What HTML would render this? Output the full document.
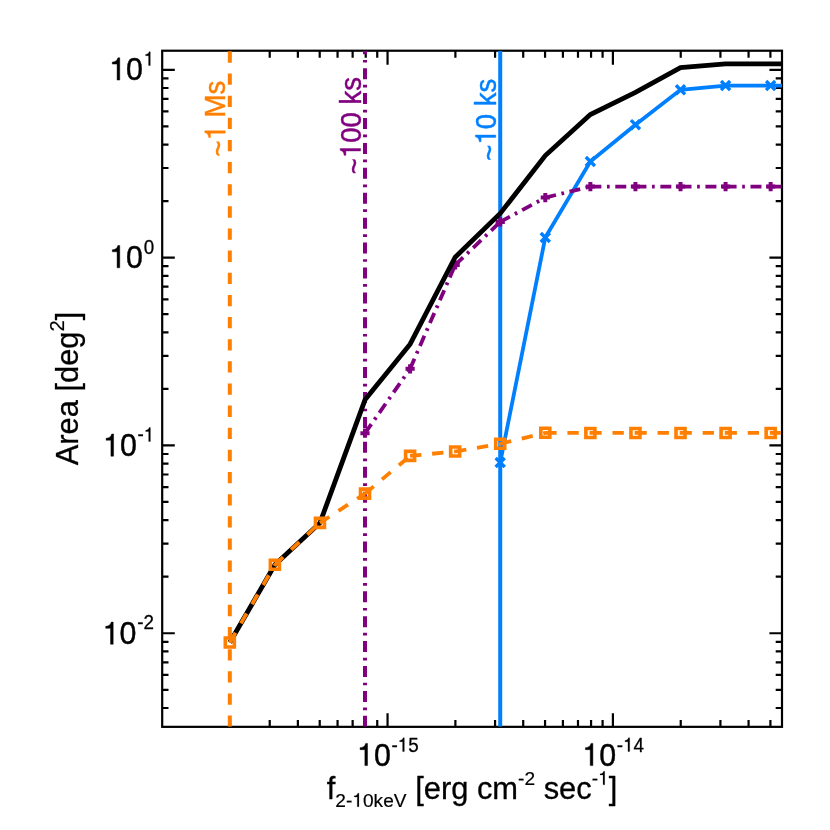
<!DOCTYPE html>
<html><head><meta charset="utf-8"><title>Area vs flux</title>
<style>html,body{margin:0;padding:0;background:#fff;overflow:hidden;}svg{display:block;will-change:transform;}text{font-family:"Liberation Sans",sans-serif;font-kerning:none;white-space:pre;}.h{fill:none;stroke:none;}</style></head><body>
<svg width="830" height="830" viewBox="0 0 830 830">
<rect x="0" y="0" width="830" height="830" fill="#fff"/>
<defs><clipPath id="pc"><rect x="162.2" y="50.72" width="619.80" height="676.13"/></clipPath></defs>
<g stroke="#000" stroke-width="2.2" fill="none" stroke-linecap="butt">
<rect x="162.2" y="50.72" width="619.80" height="676.13"/>
<path d="M230.04 726.85V720.05M230.04 50.72V57.72M269.72 726.85V720.05M269.72 50.72V57.72M297.87 726.85V720.05M297.87 50.72V57.72M319.71 726.85V720.05M319.71 50.72V57.72M337.56 726.85V720.05M337.56 50.72V57.72M352.64 726.85V720.05M352.64 50.72V57.72M365.71 726.85V720.05M365.71 50.72V57.72M377.24 726.85V720.05M377.24 50.72V57.72M387.55 726.85V713.15M387.55 50.72V64.72M455.39 726.85V720.05M455.39 50.72V57.72M495.07 726.85V720.05M495.07 50.72V57.72M523.22 726.85V720.05M523.22 50.72V57.72M545.06 726.85V720.05M545.06 50.72V57.72M562.91 726.85V720.05M562.91 50.72V57.72M577.99 726.85V720.05M577.99 50.72V57.72M591.06 726.85V720.05M591.06 50.72V57.72M602.59 726.85V720.05M602.59 50.72V57.72M612.90 726.85V713.15M612.90 50.72V64.72M680.74 726.85V720.05M680.74 50.72V57.72M720.42 726.85V720.05M720.42 50.72V57.72M748.57 726.85V720.05M748.57 50.72V57.72M770.41 726.85V720.05M770.41 50.72V57.72M162.2 707.98H168.50M782.0 707.98H775.70M162.2 689.78H168.50M782.0 689.78H775.70M162.2 674.91H168.50M782.0 674.91H775.70M162.2 662.34H168.50M782.0 662.34H775.70M162.2 651.44H168.50M782.0 651.44H775.70M162.2 641.84H168.50M782.0 641.84H775.70M162.2 633.24H174.80M782.0 633.24H769.40M162.2 576.71H168.50M782.0 576.71H775.70M162.2 543.63H168.50M782.0 543.63H775.70M162.2 520.17H168.50M782.0 520.17H775.70M162.2 501.97H168.50M782.0 501.97H775.70M162.2 487.10H168.50M782.0 487.10H775.70M162.2 474.52H168.50M782.0 474.52H775.70M162.2 463.63H168.50M782.0 463.63H775.70M162.2 454.02H168.50M782.0 454.02H775.70M162.2 445.43H174.80M782.0 445.43H769.40M162.2 388.89H168.50M782.0 388.89H775.70M162.2 355.82H168.50M782.0 355.82H775.70M162.2 332.35H168.50M782.0 332.35H775.70M162.2 314.15H168.50M782.0 314.15H775.70M162.2 299.28H168.50M782.0 299.28H775.70M162.2 286.71H168.50M782.0 286.71H775.70M162.2 275.82H168.50M782.0 275.82H775.70M162.2 266.21H168.50M782.0 266.21H775.70M162.2 257.62H174.80M782.0 257.62H769.40M162.2 201.08H168.50M782.0 201.08H775.70M162.2 168.01H168.50M782.0 168.01H775.70M162.2 144.54H168.50M782.0 144.54H775.70M162.2 126.34H168.50M782.0 126.34H775.70M162.2 111.47H168.50M782.0 111.47H775.70M162.2 98.89H168.50M782.0 98.89H775.70M162.2 88.00H168.50M782.0 88.00H775.70M162.2 78.40H168.50M782.0 78.40H775.70M162.2 69.80H174.80M782.0 69.80H769.40"/>
</g>
<g clip-path="url(#pc)" fill="none" stroke-linecap="butt" stroke-linejoin="miter">
<g stroke="#0080FF" stroke-width="4.0">
<path d="M500.22 726.85V50.72"/>
<polyline points="500.22,462.50 545.30,237.50 590.37,161.50 635.44,124.70 680.51,89.80 725.58,85.55 770.65,85.55 815.72,85.55" stroke-width="3.8"/>
<path d="M495.67 457.95L504.77 467.05M495.67 467.05L504.77 457.95M540.75 232.95L549.85 242.05M540.75 242.05L549.85 232.95M585.82 156.95L594.91 166.05M585.82 166.05L594.91 156.95M630.89 120.15L639.99 129.25M630.89 129.25L639.99 120.15M675.96 85.25L685.06 94.35M675.96 94.35L685.06 85.25M721.03 81.00L730.12 90.10M721.03 90.10L730.12 81.00M766.10 81.00L775.20 90.10M766.10 90.10L775.20 81.00M811.17 81.00L820.27 90.10M811.17 90.10L820.27 81.00" stroke-width="3.4"/>
</g>
<g stroke="#800080" stroke-width="4.0">
<path d="M365.02 726.85V50.72" stroke-dasharray="11 5.6 2.7 5.61"/>
<path d="M365.02 433.20L410.09 368.80M410.09 368.80L455.16 265.00M455.16 265.00L500.22 221.90M500.22 221.90L545.30 197.60M545.30 197.60L590.37 186.60M590.37 186.60L635.44 186.60M635.44 186.60L680.51 186.60M680.51 186.60L725.58 186.60M725.58 186.60L770.65 186.60M770.65 186.60L815.72 186.60" stroke-dasharray="11 5.6 2.7 5.61" stroke-width="3.8"/>
<path d="M360.42 433.20H369.62M365.02 428.60V437.80M405.49 368.80H414.69M410.09 364.20V373.40M450.56 265.00H459.76M455.16 260.40V269.60M495.62 221.90H504.82M500.22 217.30V226.50M540.70 197.60H549.90M545.30 193.00V202.20M585.76 186.60H594.97M590.37 182.00V191.20M630.84 186.60H640.04M635.44 182.00V191.20M675.91 186.60H685.11M680.51 182.00V191.20M720.98 186.60H730.18M725.58 182.00V191.20M766.05 186.60H775.25M770.65 182.00V191.20M811.12 186.60H820.32M815.72 182.00V191.20"/>
</g>
<polyline points="229.81,642.50 274.88,564.80 319.95,522.90 365.02,399.80 410.09,344.20 455.16,257.20 500.22,213.50 545.30,155.60 590.37,114.50 635.44,92.40 680.51,67.70 725.58,63.90 770.65,63.90 815.72,63.90" stroke="#000" stroke-width="4.8"/>
<g stroke="#FF7F00" stroke-width="4.0">
<path d="M229.81 726.85V50.72" stroke-dasharray="11.3 10.84"/>
<path d="M229.81 642.50L274.88 564.80M274.88 564.80L319.95 522.90M319.95 522.90L365.02 493.60M365.02 493.60L410.09 455.90M410.09 455.90L455.16 451.50M455.16 451.50L500.22 443.80M500.22 443.80L545.30 432.80M545.30 432.80L590.37 432.95M590.37 432.95L635.44 432.95M635.44 432.95L680.51 432.95M680.51 432.95L725.58 432.95M725.58 432.95L770.65 432.95M770.65 432.95H780.75" stroke-dasharray="11.3 10.84" stroke-width="3.8"/>
<path d="M225.31 638.00h9.0v9.0h-9.0zM270.38 560.30h9.0v9.0h-9.0zM315.45 518.40h9.0v9.0h-9.0zM360.52 489.10h9.0v9.0h-9.0zM405.59 451.40h9.0v9.0h-9.0zM450.66 447.00h9.0v9.0h-9.0zM495.72 439.30h9.0v9.0h-9.0zM540.80 428.30h9.0v9.0h-9.0zM585.87 428.45h9.0v9.0h-9.0zM630.94 428.45h9.0v9.0h-9.0zM676.01 428.45h9.0v9.0h-9.0zM721.08 428.45h9.0v9.0h-9.0zM766.15 428.45h9.0v9.0h-9.0zM811.22 428.45h9.0v9.0h-9.0z" stroke-width="3.6"/>
</g>
</g>
<g transform="translate(154.20 80.05) scale(0.96 1)" fill="#000" stroke="#000" stroke-linejoin="round">
<text x="-46.84" y="0.00" font-size="31.60" stroke-width="0.45"><tspan class="h">1</tspan>0</text>
<path d="M347 0L259 0L259 505L101 505L101 568C195 572 258 610 286 703L347 703Z" transform="translate(-46.84 0.00) scale(0.03160 -0.03160)" stroke-width="14.2"/>
<text x="-10.90" y="-14.50" font-size="19.59" stroke-width="0.29"><tspan class="h">1</tspan></text>
<path d="M347 0L259 0L259 505L101 505L101 568C195 572 258 610 286 703L347 703Z" transform="translate(-10.90 -14.50) scale(0.01959 -0.01959)" stroke-width="15.0"/>
</g>
<g transform="translate(154.20 267.77) scale(0.96 1)" fill="#000" stroke="#000" stroke-linejoin="round">
<text x="-46.84" y="0.00" font-size="31.60" stroke-width="0.45"><tspan class="h">1</tspan>0</text>
<path d="M347 0L259 0L259 505L101 505L101 568C195 572 258 610 286 703L347 703Z" transform="translate(-46.84 0.00) scale(0.03160 -0.03160)" stroke-width="14.2"/>
<text x="-10.90" y="-13.60" font-size="19.59" stroke-width="0.29">0</text>
</g>
<g transform="translate(154.30 456.18) scale(0.96 1)" fill="#000" stroke="#000" stroke-linejoin="round">
<text x="-53.37" y="0.00" font-size="31.60" stroke-width="0.45"><tspan class="h">1</tspan>0</text>
<path d="M347 0L259 0L259 505L101 505L101 568C195 572 258 610 286 703L347 703Z" transform="translate(-53.37 0.00) scale(0.03160 -0.03160)" stroke-width="14.2"/>
<text x="-17.42" y="-14.80" font-size="19.59" stroke-width="0.29">-<tspan class="h">1</tspan></text>
<path d="M347 0L259 0L259 505L101 505L101 568C195 572 258 610 286 703L347 703Z" transform="translate(-10.90 -14.80) scale(0.01959 -0.01959)" stroke-width="15.0"/>
</g>
<g transform="translate(153.90 644.29) scale(0.96 1)" fill="#000" stroke="#000" stroke-linejoin="round">
<text x="-53.37" y="0.00" font-size="31.60" stroke-width="0.45"><tspan class="h">1</tspan>0</text>
<path d="M347 0L259 0L259 505L101 505L101 568C195 572 258 610 286 703L347 703Z" transform="translate(-53.37 0.00) scale(0.03160 -0.03160)" stroke-width="14.2"/>
<text x="-17.42" y="-15.30" font-size="19.59" stroke-width="0.29">-2</text>
</g>
<g transform="translate(387.85 765.60) scale(0.96 1)" fill="#000" stroke="#000" stroke-linejoin="round">
<text x="-32.13" y="0.00" font-size="31.60" stroke-width="0.45"><tspan class="h">1</tspan>0</text>
<path d="M347 0L259 0L259 505L101 505L101 568C195 572 258 610 286 703L347 703Z" transform="translate(-32.13 0.00) scale(0.03160 -0.03160)" stroke-width="14.2"/>
<text x="3.82" y="-14.00" font-size="19.59" stroke-width="0.29">-<tspan class="h">1</tspan>5</text>
<path d="M347 0L259 0L259 505L101 505L101 568C195 572 258 610 286 703L347 703Z" transform="translate(10.34 -14.00) scale(0.01959 -0.01959)" stroke-width="15.0"/>
</g>
<g transform="translate(613.20 765.60) scale(0.96 1)" fill="#000" stroke="#000" stroke-linejoin="round">
<text x="-32.13" y="0.00" font-size="31.60" stroke-width="0.45"><tspan class="h">1</tspan>0</text>
<path d="M347 0L259 0L259 505L101 505L101 568C195 572 258 610 286 703L347 703Z" transform="translate(-32.13 0.00) scale(0.03160 -0.03160)" stroke-width="14.2"/>
<text x="3.82" y="-14.00" font-size="19.59" stroke-width="0.29">-<tspan class="h">1</tspan>4</text>
<path d="M347 0L259 0L259 505L101 505L101 568C195 572 258 610 286 703L347 703Z" transform="translate(10.34 -14.00) scale(0.01959 -0.01959)" stroke-width="15.0"/>
</g>
<g transform="translate(472.00 798.60)" fill="#000" stroke="#000" stroke-linejoin="round">
<text x="-145.29" y="0.00" font-size="30.87" stroke-width="0.30">f</text>
<text x="-136.72" y="8.10" font-size="19.14" stroke-width="0.19">2-<tspan class="h">1</tspan>0keV</text>
<path d="M347 0L259 0L259 505L101 505L101 568C195 572 258 610 286 703L347 703Z" transform="translate(-119.70 8.10) scale(0.01914 -0.01914)" stroke-width="10.0"/>
<text x="-65.43" y="0.00" font-size="30.87" stroke-width="0.30"> [erg cm</text>
<text x="46.07" y="-13.90" font-size="19.14" stroke-width="0.19">-2</text>
<text x="63.08" y="0.00" font-size="30.87" stroke-width="0.30"> sec</text>
<text x="119.70" y="-13.90" font-size="19.14" stroke-width="0.19">-<tspan class="h">1</tspan></text>
<path d="M347 0L259 0L259 505L101 505L101 568C195 572 258 610 286 703L347 703Z" transform="translate(126.07 -13.90) scale(0.01914 -0.01914)" stroke-width="10.0"/>
<text x="136.72" y="0.00" font-size="30.87" stroke-width="0.30">]</text>
</g>
<g transform="translate(78.10 388.50) rotate(-90)" fill="#000" stroke="#000" stroke-linejoin="round">
<text x="-76.84" y="0.00" font-size="30.87" stroke-width="0.30">Area [deg</text>
<text x="57.02" y="-14.50" font-size="20.22" stroke-width="0.20">2</text>
<text x="68.27" y="0.00" font-size="30.87" stroke-width="0.30">]</text>
</g>
<g transform="translate(225.20 156.50) rotate(-90) scale(0.948 1)" fill="#FF7F00" stroke="#FF7F00" stroke-linejoin="round">
<text x="0.00" y="3.20" font-size="29.10" stroke-width="0.44">~</text>
<text x="16.99" y="0.00" font-size="29.10" stroke-width="0.44"><tspan class="h">1</tspan> Ms</text>
<path d="M347 0L259 0L259 505L101 505L101 568C195 572 258 610 286 703L347 703Z" transform="translate(16.99 0.00) scale(0.02910 -0.02910)" stroke-width="15.0"/>
</g>
<g transform="translate(360.60 174.20) rotate(-90) scale(0.948 1)" fill="#800080" stroke="#800080" stroke-linejoin="round">
<text x="0.00" y="3.20" font-size="29.10" stroke-width="0.44">~</text>
<text x="16.99" y="0.00" font-size="29.10" stroke-width="0.44"><tspan class="h">1</tspan>00 ks</text>
<path d="M347 0L259 0L259 505L101 505L101 568C195 572 258 610 286 703L347 703Z" transform="translate(16.99 0.00) scale(0.02910 -0.02910)" stroke-width="15.0"/>
</g>
<g transform="translate(495.80 160.70) rotate(-90) scale(0.948 1)" fill="#0080FF" stroke="#0080FF" stroke-linejoin="round">
<text x="0.00" y="3.20" font-size="29.10" stroke-width="0.44">~</text>
<text x="16.99" y="0.00" font-size="29.10" stroke-width="0.44"><tspan class="h">1</tspan>0 ks</text>
<path d="M347 0L259 0L259 505L101 505L101 568C195 572 258 610 286 703L347 703Z" transform="translate(16.99 0.00) scale(0.02910 -0.02910)" stroke-width="15.0"/>
</g>
</svg></body></html>
